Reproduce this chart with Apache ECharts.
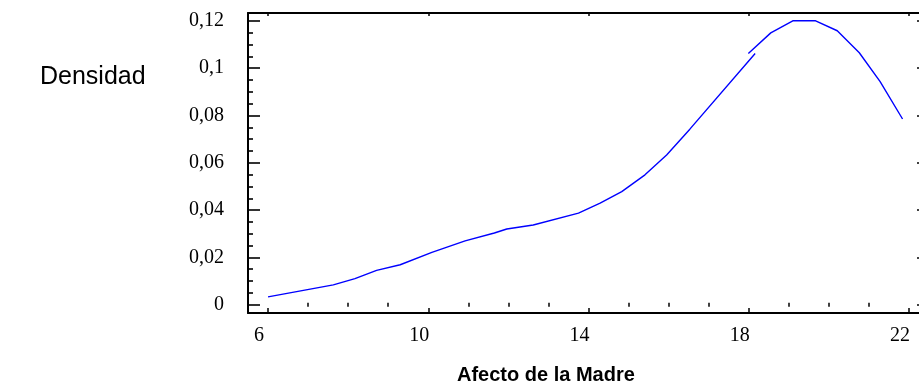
<!DOCTYPE html>
<html>
<head>
<meta charset="utf-8">
<script src="https://cdn.jsdelivr.net/npm/echarts@6/dist/echarts.min.js"></script>
<style>
  html, body { margin: 0; padding: 0; background: #ffffff; }
  #chart { width: 919px; height: 392px; }
</style>
</head>
<body>
<div id="chart"></div>
<script>
// Density trace of "Afecto de la Madre", drawn as two overlapping pieces
const lowerX = [6.0, 7.63, 8.17, 8.71, 9.30, 10.09, 10.92, 11.65, 11.96, 12.62, 13.75, 14.29, 14.83, 15.41, 15.95, 16.53, 18.16];
const lowerY = [0.0033, 0.0084, 0.0110, 0.0145, 0.0169, 0.0221, 0.0270, 0.0303, 0.0320, 0.0337, 0.0387, 0.0429, 0.0478, 0.0549, 0.0633, 0.0742, 0.1062];
const upperX = [17.99, 18.55, 19.10, 19.67, 20.21, 20.76, 21.28, 21.84];
const upperY = [0.1062, 0.1149, 0.1200, 0.1200, 0.1158, 0.1065, 0.0943, 0.0785];

// Axis ticks and labels
const xMajor = [6, 10, 14, 18, 22];
const xMinor = [7, 8, 9, 11, 12, 13, 15, 16, 17, 19, 20, 21];
const yMajor = [0, 0.02, 0.04, 0.06, 0.08, 0.1, 0.12];
const yMajorText = ['0', '0,02', '0,04', '0,06', '0,08', '0,1', '0,12'];
const yMinor = [0.005, 0.01, 0.015, 0.025, 0.03, 0.035, 0.045, 0.05, 0.055, 0.065, 0.07, 0.075,
                0.085, 0.09, 0.095, 0.105, 0.11, 0.115];

const xRange = [5.5, 22.5];
const yRange = [-0.0035, 0.1233];

const zip = (xs, ys) => xs.map((x, i) => [x, ys[i]]);
const serif = 'Liberation Serif';
const sans = 'Liberation Sans';

function xAxisDef(pos, ticks, len, opts) {
  return Object.assign({
    type: 'value', position: pos, min: xRange[0], max: xRange[1],
    axisLine: { show: false },
    splitLine: { show: false },
    axisLabel: { show: false },
    axisTick: { show: true, inside: true, length: len, customValues: ticks,
                lineStyle: { color: '#000', width: 1.5 } }
  }, opts || {});
}
function yAxisDef(pos, ticks, len, opts) {
  return Object.assign({
    type: 'value', position: pos, min: yRange[0], max: yRange[1],
    axisLine: { show: false },
    splitLine: { show: false },
    axisLabel: { show: false },
    axisTick: { show: true, inside: true, length: len, customValues: ticks,
                lineStyle: { color: '#000', width: 1.6 } }
  }, opts || {});
}

const chart = echarts.init(document.getElementById('chart'), null, { renderer: 'canvas' });
chart.setOption({
  animation: false,
  backgroundColor: '#ffffff',
  title: [
    { text: 'Densidad', left: 35, top: 60,
      textStyle: { fontFamily: sans, fontSize: 25, fontWeight: 'normal', color: '#000' } },
    { text: 'Afecto de la Madre', left: 452, top: 360,
      textStyle: { fontFamily: sans, fontSize: 20, fontWeight: 'bold', color: '#000' } }
  ],
  // the frame runs past the right edge of the canvas
  grid: { left: 248, top: 13, width: 681, height: 300, show: false,
          outerBoundsMode: 'none', containLabel: false },
  xAxis: [
    // bottom axis: line, major ticks and labels
    xAxisDef('bottom', xMajor, 5, {
      axisLine: { show: true, onZero: false, lineStyle: { color: '#000', width: 2 } },
      axisLabel: { show: true, customValues: xMajor, margin: 13, padding: [0, 18, 0, 0],
                   fontFamily: serif, fontSize: 20, color: '#000' }
    }),
    xAxisDef('bottom', xMinor, 2),
    // top frame
    xAxisDef('top', xMajor, 3, {
      axisLine: { show: true, onZero: false, lineStyle: { color: '#000', width: 2 } }
    }),
    xAxisDef('top', xMinor, 2)
  ],
  yAxis: [
    yAxisDef('left', yMajor, 12, {
      axisLine: { show: true, onZero: false, lineStyle: { color: '#000', width: 2 } },
      axisLabel: { show: true, customValues: yMajor, margin: 24,
                   fontFamily: serif, fontSize: 20, color: '#000',
                   formatter: v => yMajorText[yMajor.findIndex(t => Math.abs(t - v) < 1e-9)] }
    }),
    yAxisDef('left', yMinor, 5),
    yAxisDef('right', yMajor, 12, {
      axisLine: { show: true, onZero: false, lineStyle: { color: '#000', width: 2 } }
    }),
    yAxisDef('right', yMinor, 5)
  ],
  series: [
    { type: 'line', xAxisIndex: 0, yAxisIndex: 0, data: zip(lowerX, lowerY),
      showSymbol: false, silent: true, lineStyle: { color: '#0000ff', width: 1.4 } },
    { type: 'line', xAxisIndex: 0, yAxisIndex: 0, data: zip(upperX, upperY),
      showSymbol: false, silent: true, lineStyle: { color: '#0000ff', width: 1.4 } }
  ]
});
</script>
</body>
</html>
